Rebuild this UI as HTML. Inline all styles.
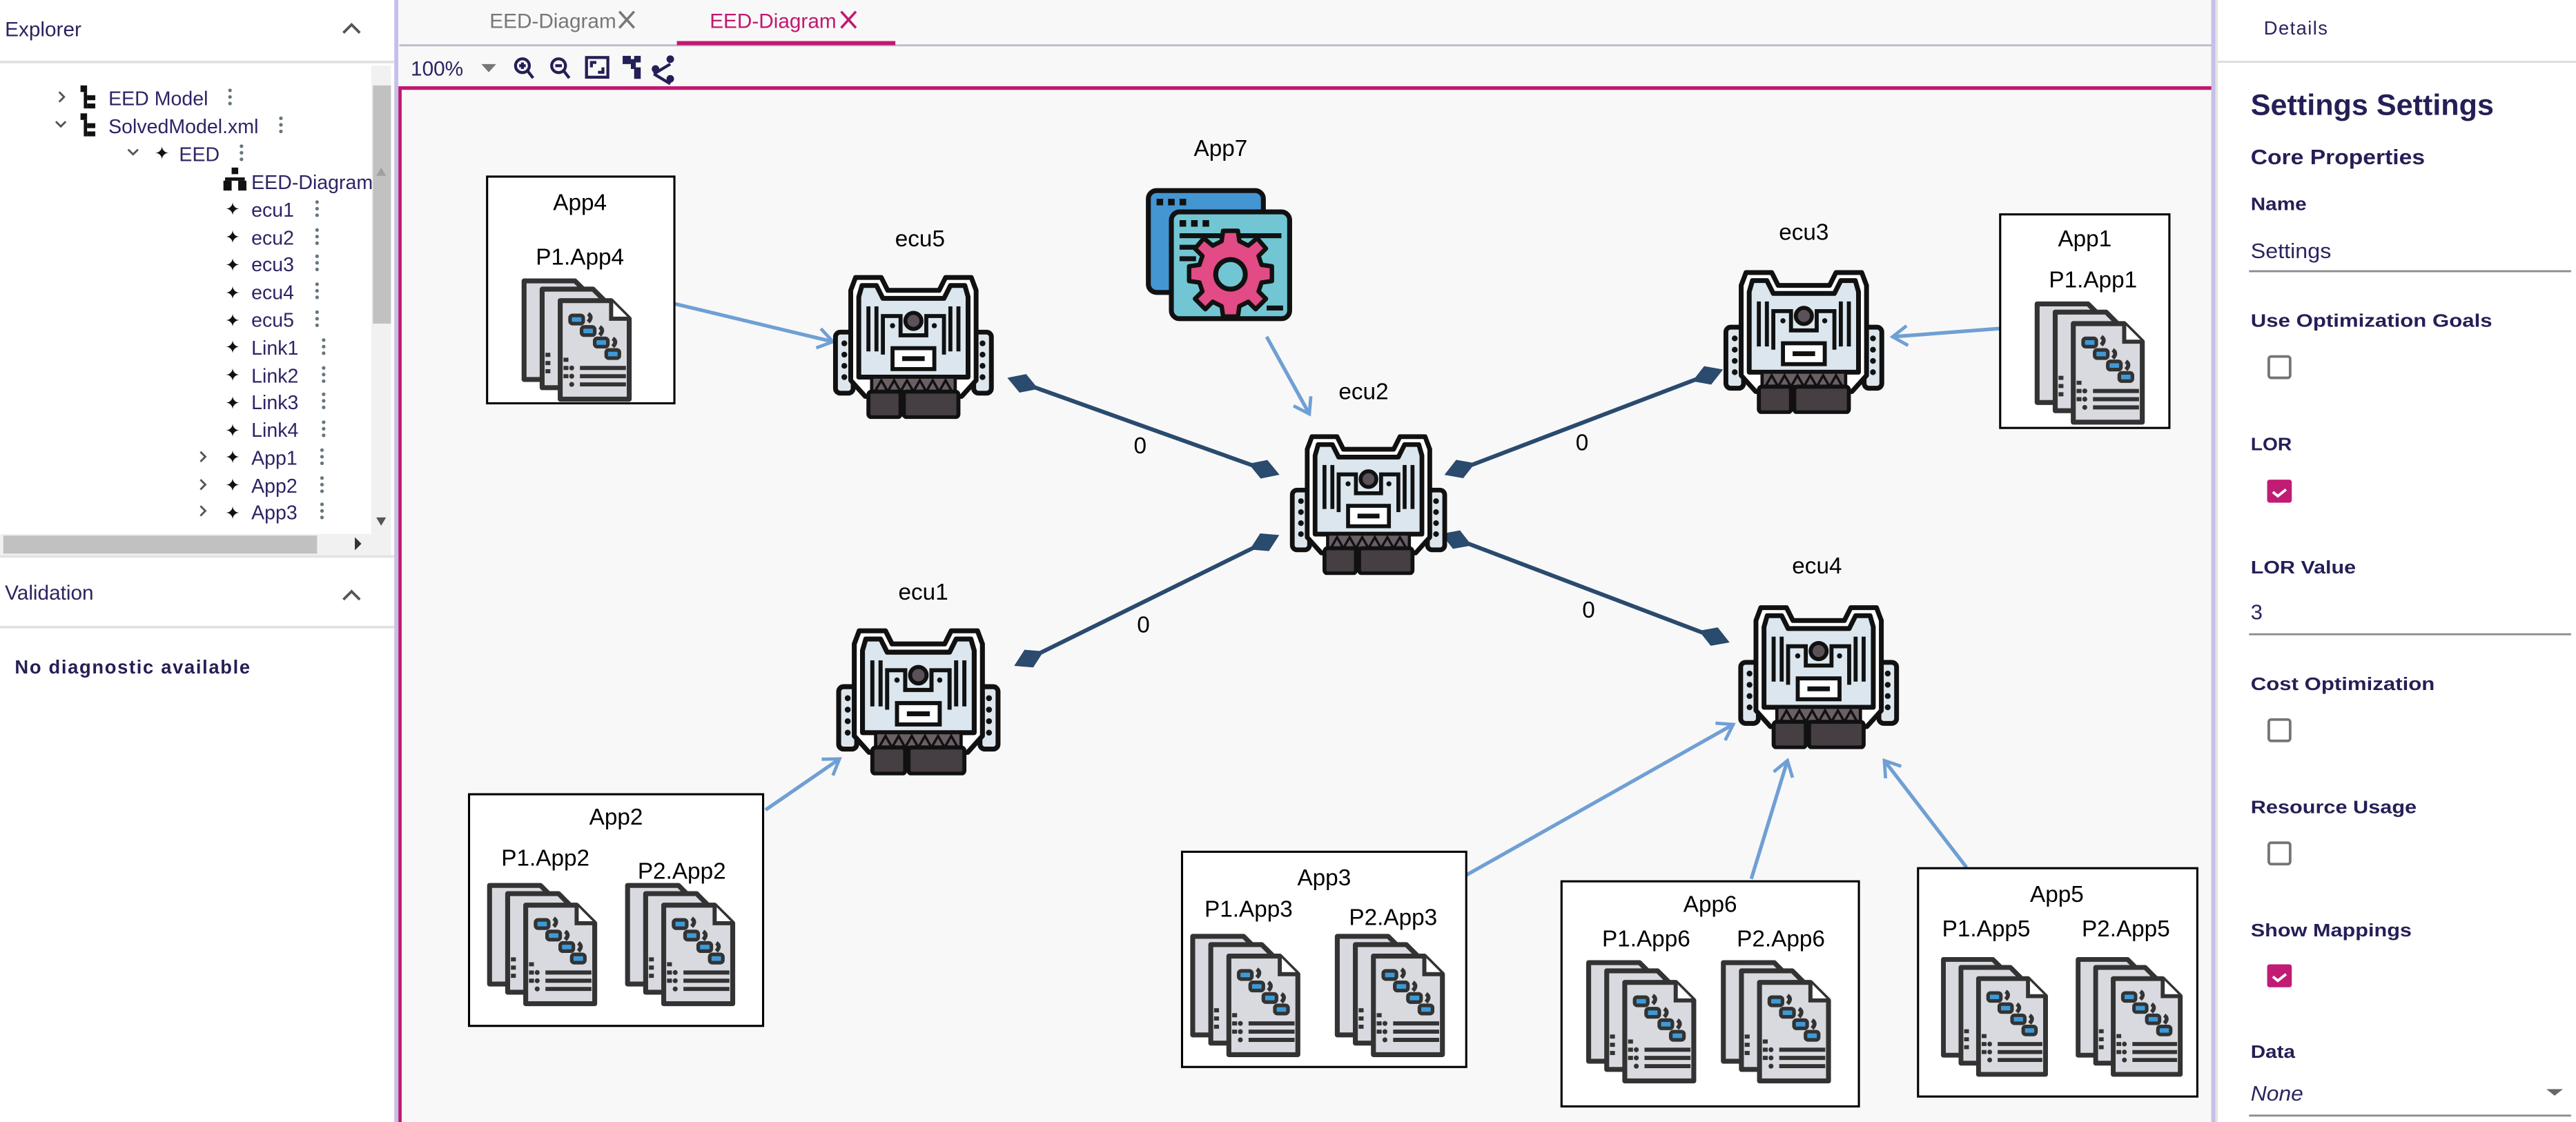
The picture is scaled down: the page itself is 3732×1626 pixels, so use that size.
<!DOCTYPE html>
<html><head><meta charset="utf-8"><style>
html,body{margin:0;padding:0;background:#fff;overflow:hidden}
svg{display:block}
</style></head><body>
<svg width="3732" height="1626" viewBox="0 0 1568 683" preserveAspectRatio="none" xmlns="http://www.w3.org/2000/svg" font-family="'Liberation Sans', sans-serif">
<defs>
<symbol id="ecu" viewBox="0 0 100 92">
  <rect x="1.5" y="38" width="11" height="38" rx="3" fill="#dde6ec" stroke="#111" stroke-width="3"/>
  <rect x="87.5" y="38" width="11" height="38" rx="3" fill="#dde6ec" stroke="#111" stroke-width="3"/>
  <g fill="#111"><circle cx="7" cy="45" r="1.8"/><circle cx="7" cy="52" r="1.8"/><circle cx="7" cy="59" r="1.8"/><circle cx="7" cy="66" r="1.8"/>
  <circle cx="93" cy="45" r="1.8"/><circle cx="93" cy="52" r="1.8"/><circle cx="93" cy="59" r="1.8"/><circle cx="93" cy="66" r="1.8"/></g>
  <path d="M11,12 L14,4 L30,4 L34,12 L66,12 L70,4 L86,4 L89,12 L89,68 L80,78 L20,78 L11,68 Z" fill="#fff" stroke="#111" stroke-width="3" stroke-linejoin="round"/>
  <path d="M16,16 L18,9 L27,9 L31,17 L69,17 L73,9 L82,9 L84,16 L84,66 L16,66 Z" fill="#dbe6ee" stroke="#111" stroke-width="3" stroke-linejoin="round"/>
  <path d="M22,22 V50 M27,22 V50 M78,22 V50 M73,22 V50" stroke="#111" stroke-width="2.5"/>
  <path d="M31,52 V28 H42 V40 H58 V28 H69 V52" fill="none" stroke="#111" stroke-width="2.5"/>
  <circle cx="50" cy="31" r="5" fill="#5a5258" stroke="#111" stroke-width="2.5"/>
  <circle cx="37" cy="34" r="1.6" fill="#111"/><circle cx="63" cy="34" r="1.6" fill="#111"/>
  <rect x="37" y="48" width="26" height="13" fill="#fff" stroke="#111" stroke-width="2.5"/>
  <rect x="43" y="53" width="14" height="3" fill="#111"/>
  <rect x="24" y="66" width="52" height="9" fill="#6a5f65" stroke="#111" stroke-width="2"/>
  <path d="M26,75 L30,68 L34,75 L38,68 L42,75 L46,68 L50,75 L54,68 L58,75 L62,68 L66,75 L70,68 L74,75" fill="none" stroke="#111" stroke-width="1.5"/>
  <rect x="22" y="75" width="20" height="16" rx="2" fill="#453e42" stroke="#111" stroke-width="2.5"/>
  <rect x="44" y="75" width="34" height="16" rx="2" fill="#453e42" stroke="#111" stroke-width="2.5"/>
</symbol>
<symbol id="page" viewBox="0 0 46 64">
  <path d="M2,2 H33 L44,13 V62 H2 Z" fill="#d9dae0" stroke="#333" stroke-width="3" stroke-linejoin="round"/>
</symbol>
<symbol id="docs" viewBox="0 0 70 78">
  <use href="#page" x="0" y="0" width="46" height="64"/>
  <use href="#page" x="11" y="5" width="46" height="64"/>
  <use href="#page" x="22" y="12" width="46" height="64"/>
  <path d="M55,14 V25 H66" fill="#fff" stroke="#333" stroke-width="2.5"/>
  <g fill="#3d9ad8" stroke="#333" stroke-width="2.2">
  <rect x="30" y="23" width="8" height="5" rx="1.5"/><rect x="37" y="30" width="8" height="5" rx="1.5"/>
  <rect x="45" y="37" width="8" height="5" rx="1.5"/><rect x="52" y="44" width="8" height="5" rx="1.5"/></g>
  <g stroke="#333" stroke-width="2.5" fill="none"><path d="M41,22 q3,2 0,5"/><path d="M48,30 q3,2 0,5"/><path d="M56,37 q3,2 0,5"/>
  <path d="M36,55 H64 M36,60 H64 M36,65 H64"/><path d="M26,50 h3 M26,55 h3 M26,60 h3 M15,47 h3 M15,52 h3 M15,57 h3"/></g>
  <g fill="#333"><circle cx="31" cy="55" r="1.5"/><circle cx="31" cy="60" r="1.5"/><circle cx="31" cy="65" r="1.5"/></g>
</symbol>
<symbol id="app7" viewBox="0 0 90 82">
  <rect x="2" y="2" width="70" height="62" rx="5" fill="#4396d2" stroke="#111" stroke-width="3"/>
  <rect x="16" y="15" width="72" height="65" rx="5" fill="#72c6d4" stroke="#111" stroke-width="3"/>
  <g fill="#111"><rect x="7" y="7" width="4" height="4"/><rect x="14" y="7" width="4" height="4"/><rect x="21" y="7" width="4" height="4"/>
  <rect x="21" y="20" width="4" height="4"/><rect x="28" y="20" width="4" height="4"/><rect x="35" y="20" width="4" height="4"/>
  <rect x="21" y="28" width="62" height="3"/><rect x="21" y="35" width="14" height="3"/><rect x="21" y="42" width="10" height="3"/><rect x="74" y="72" width="10" height="3"/></g>
  <g transform="translate(52,53)">
   <path d="M-5,-25 H5 L6,-18 L12,-15 L18,-20 L24,-13 L19,-8 L21,-2 L28,-1 V9 L21,10 L19,16 L24,21 L17,28 L12,23 L6,26 L5,33 H-5 L-6,26 L-12,23 L-17,28 L-24,21 L-19,16 L-21,10 L-28,9 V-1 L-21,-2 L-19,-8 L-24,-13 L-18,-20 L-12,-15 L-6,-18 Z" transform="translate(0,-4) scale(0.9)" fill="#e24b86" stroke="#111" stroke-width="3" stroke-linejoin="round"/>
   <circle cx="0" cy="0" r="9" fill="#72c6d4" stroke="#111" stroke-width="3"/>
  </g>
</symbol>
<marker id="ah" markerWidth="14" markerHeight="14" refX="11" refY="7" orient="auto" markerUnits="userSpaceOnUse">
  <path d="M2,1 L11,7 L2,13" fill="none" stroke="#6f9fd4" stroke-width="2"/>
</marker>
</defs>

<!-- Left panel -->
<rect x="0" y="0" width="240" height="683" fill="#fff"/>
<text x="3" y="22" font-size="12.5" fill="#2a2560">Explorer</text>
<path d="M209,20 l5,-5 l5,5" fill="none" stroke="#555" stroke-width="1.6"/>
<rect x="0" y="37" width="240" height="1.5" fill="#e0e0e0"/>
<rect x="226" y="40" width="12" height="285" fill="#f1f1f1"/>
<rect x="227" y="52" width="11" height="145" fill="#c1c1c1"/>
<path d="M229,108 l3,-5 l3,5z" fill="#a0a0a0" transform="translate(0,-1)"/>
<path d="M229,315 l3,5 l3,-5z" fill="#555"/>
<rect x="0" y="325" width="238" height="13" fill="#f1f1f1"/>
<rect x="2" y="326" width="191" height="11" fill="#c1c1c1"/>
<path d="M216,327 l4,4 l-4,4z" fill="#333"/>
<rect x="0" y="338" width="240" height="1.5" fill="#e3e3e3"/>

<g font-size="12" fill="#2c2565">
 <g stroke="#555" stroke-width="1.2" fill="none"><path d="M36,56 l3,3 l-3,3"/><path d="M34,74 l3,3 l3,-3"/><path d="M78,91 l3,3 l3,-3"/>
 <path d="M122,275 l3,3 l-3,3"/><path d="M122,292 l3,3 l-3,3"/><path d="M122,308 l3,3 l-3,3"/></g>
 <g fill="#111"><rect x="49" y="52" width="4" height="4"/><rect x="51" y="56" width="2" height="10"/><rect x="53" y="58" width="5" height="3"/><rect x="53" y="63" width="5" height="3"/>
 <rect x="49" y="69" width="4" height="4"/><rect x="51" y="73" width="2" height="10"/><rect x="53" y="75" width="5" height="3"/><rect x="53" y="80" width="5" height="3"/>
 <rect x="141" y="102" width="4" height="4"/><rect x="137" y="108" width="12" height="2"/><rect x="136" y="110" width="5" height="6"/><rect x="145" y="110" width="5" height="6"/></g>
 <text x="66" y="64">EED Model</text>
 <text x="66" y="81">SolvedModel.xml</text>
 <text x="109" y="98">EED</text>
 <text x="153" y="115">EED-Diagram</text>
 <g font-size="11" fill="#111"><text x="94" y="97">✦</text>
 <text x="137" y="131">✦</text><text x="137" y="148">✦</text><text x="137" y="165">✦</text><text x="137" y="182">✦</text><text x="137" y="199">✦</text>
 <text x="137" y="215">✦</text><text x="137" y="232">✦</text><text x="137" y="249">✦</text><text x="137" y="266">✦</text>
 <text x="137" y="282">✦</text><text x="137" y="299">✦</text><text x="137" y="316">✦</text></g>
 <text x="153" y="132">ecu1</text><text x="153" y="149">ecu2</text><text x="153" y="165">ecu3</text><text x="153" y="182">ecu4</text><text x="153" y="199">ecu5</text>
 <text x="153" y="216">Link1</text><text x="153" y="233">Link2</text><text x="153" y="249">Link3</text><text x="153" y="266">Link4</text>
 <text x="153" y="283">App1</text><text x="153" y="300">App2</text><text x="153" y="316">App3</text>
 <g fill="#66767e">
  <circle cx="140" cy="55" r="1.1"/><circle cx="140" cy="59" r="1.1"/><circle cx="140" cy="63" r="1.1"/>
  <circle cx="171" cy="72" r="1.1"/><circle cx="171" cy="76" r="1.1"/><circle cx="171" cy="80" r="1.1"/>
  <circle cx="147" cy="89" r="1.1"/><circle cx="147" cy="93" r="1.1"/><circle cx="147" cy="97" r="1.1"/>
  <g id="k1"><circle cx="193" cy="123" r="1.1"/><circle cx="193" cy="127" r="1.1"/><circle cx="193" cy="131" r="1.1"/></g>
  <use href="#k1" y="17"/><use href="#k1" y="33"/><use href="#k1" y="50"/><use href="#k1" y="67"/>
  <use href="#k1" x="4" y="84"/><use href="#k1" x="4" y="101"/><use href="#k1" x="4" y="117"/><use href="#k1" x="4" y="134"/>
  <use href="#k1" x="3" y="151"/><use href="#k1" x="3" y="168"/><use href="#k1" x="3" y="184"/>
 </g>
</g>
<text x="3" y="365" font-size="12.5" fill="#2a2560">Validation</text>
<path d="M209,365 l5,-5 l5,5" fill="none" stroke="#555" stroke-width="1.6"/>
<rect x="0" y="381" width="240" height="1.5" fill="#e0e0e0"/>
<text x="9" y="410" font-size="11.5" font-weight="bold" fill="#241f56" letter-spacing="0.7">No diagnostic available</text>
<rect x="240" y="0" width="2.5" height="683" fill="#c4c0ea"/>

<!-- Middle -->
<rect x="243" y="0" width="1104" height="683" fill="#f8f8f8"/>
<rect x="243" y="27" width="1104" height="1.2" fill="#b9bec6"/>
<text x="298" y="17" font-size="12.5" fill="#777">EED-Diagram</text>
<path d="M377,7 l9,10 M386,7 l-9,10" stroke="#777" stroke-width="1.5"/>
<text x="432" y="17" font-size="12.5" fill="#c2186f">EED-Diagram</text>
<path d="M512,7 l9,10 M521,7 l-9,10" stroke="#c2186f" stroke-width="1.5"/>
<rect x="412" y="25" width="133" height="2.5" fill="#c2186f"/>
<text x="250" y="46" font-size="12.5" fill="#2a2560">100%</text>
<path d="M293,39 h9 l-4.5,5z" fill="#777"/>
<g stroke="#241f56" fill="none" stroke-width="1.8">
 <circle cx="318" cy="40" r="4.2"/><path d="M321,43 l3.5,4.5 M316,40 h4 M318,38 v4"/>
 <circle cx="340" cy="40" r="4.2"/><path d="M343,43 l3.5,4.5 M338,40 h4"/>
 <rect x="357" y="35" width="13" height="12"/><path d="M360,41 v-3 h3 M367,41 v3 h-3"/>
 <path d="M398,45 l10,-6 M398,45 l10,6"/>
</g>
<g fill="#241f56"><rect x="379" y="34" width="5" height="5"/><rect x="384" y="36" width="3" height="6"/><rect x="386" y="41" width="4" height="7"/><rect x="386" y="34" width="4" height="4"/>
<circle cx="408" cy="36" r="2.3"/><circle cx="408" cy="48" r="2.3"/><circle cx="399" cy="42" r="2.3"/></g>
<rect x="243" y="52.5" width="1104" height="2.2" fill="#c2186f"/>
<rect x="242.5" y="52.5" width="2" height="630.5" fill="#c2186f"/>

<!-- Diagram edges -->
<g stroke="#6f9fd4" stroke-width="2.2" fill="none" marker-end="url(#ah)">
 <path d="M411,185 L507,208"/>
 <path d="M771,205 L797,252"/>
 <path d="M1217,200 L1152,205"/>
 <path d="M466,493 L511,462"/>
 <path d="M892,533 L1055,441"/>
 <path d="M1066,535 L1088,463"/>
 <path d="M1197,528 L1147,463"/>
</g>
<g stroke="#2a4a6e" stroke-width="2.5">
 <path d="M622,233 L770,286"/><path d="M1040,228 L888,286"/><path d="M626,401 L770,330"/><path d="M1044,388 L886,328"/>
</g>
<g fill="#2a4a6e">
 <polygon points="-3,0 7,-6 17,0 7,6" transform="translate(616,231) rotate(19.7)"/>
 <polygon points="-3,0 7,-6 17,0 7,6" transform="translate(776,288) rotate(199.7)"/>
 <polygon points="-3,0 7,-6 17,0 7,6" transform="translate(1046,226) rotate(159.1)"/>
 <polygon points="-3,0 7,-6 17,0 7,6" transform="translate(882,288) rotate(339.1)"/>
 <polygon points="-3,0 7,-6 17,0 7,6" transform="translate(620,404) rotate(-26.2)"/>
 <polygon points="-3,0 7,-6 17,0 7,6" transform="translate(776,327) rotate(153.8)"/>
 <polygon points="-3,0 7,-6 17,0 7,6" transform="translate(1050,390) rotate(-159.2)"/>
 <polygon points="-3,0 7,-6 17,0 7,6" transform="translate(880,326) rotate(20.8)"/>
</g>
<g font-size="14" fill="#000" text-anchor="middle">
 <text x="694" y="276">0</text><text x="963" y="274">0</text><text x="696" y="385">0</text><text x="967" y="376">0</text>
</g>

<!-- ECUs -->
<use href="#ecu" x="507" y="165" width="98" height="90"/>
<use href="#ecu" x="782" y="262" width="102" height="88"/>
<use href="#ecu" x="1047" y="162" width="102" height="90"/>
<use href="#ecu" x="509" y="380" width="100" height="92"/>
<use href="#ecu" x="1055" y="366" width="104" height="90"/>
<use href="#app7" x="697" y="114" width="90" height="82"/>

<g font-size="14" fill="#000" text-anchor="middle">
 <text x="560" y="150">ecu5</text><text x="830" y="243">ecu2</text><text x="1098" y="146">ecu3</text>
 <text x="562" y="365">ecu1</text><text x="1106" y="349">ecu4</text><text x="743" y="95">App7</text>
</g>

<!-- App boxes -->
<g fill="#fff" stroke="#000" stroke-width="1.3">
 <rect x="296.5" y="107.5" width="114" height="138"/>
 <rect x="1217.5" y="130.5" width="103" height="130"/>
 <rect x="285.5" y="483.5" width="179" height="141"/>
 <rect x="719.5" y="518.5" width="173" height="131"/>
 <rect x="950.5" y="536.5" width="181" height="137"/>
 <rect x="1167.5" y="528.5" width="170" height="139"/>
</g>
<g font-size="14" fill="#000" text-anchor="middle">
 <text x="353" y="128">App4</text><text x="353" y="161">P1.App4</text>
 <text x="1269" y="150">App1</text><text x="1274" y="175">P1.App1</text>
 <text x="375" y="502">App2</text><text x="332" y="527">P1.App2</text><text x="415" y="535">P2.App2</text>
 <text x="806" y="539">App3</text><text x="760" y="558">P1.App3</text><text x="848" y="563">P2.App3</text>
 <text x="1041" y="555">App6</text><text x="1002" y="576">P1.App6</text><text x="1084" y="576">P2.App6</text>
 <text x="1252" y="549">App5</text><text x="1209" y="570">P1.App5</text><text x="1294" y="570">P2.App5</text>
</g>
<use href="#docs" x="317" y="169" width="70" height="78"/>
<use href="#docs" x="1238" y="183" width="70" height="78"/>
<use href="#docs" x="296" y="537" width="70" height="78"/>
<use href="#docs" x="380" y="537" width="70" height="78"/>
<use href="#docs" x="724" y="568" width="70" height="78"/>
<use href="#docs" x="812" y="568" width="70" height="78"/>
<use href="#docs" x="965" y="584" width="70" height="78"/>
<use href="#docs" x="1047" y="584" width="70" height="78"/>
<use href="#docs" x="1181" y="581" width="68" height="78"/>
<use href="#docs" x="1263" y="581" width="68" height="78"/>

<!-- Right panel -->
<rect x="1347" y="0" width="221" height="683" fill="#fff"/>
<rect x="1346" y="0" width="2.5" height="683" fill="#c4c0ea"/>
<rect x="1348.5" y="0" width="1.5" height="683" fill="#e4e4e4"/>
<text x="1378" y="21" font-size="11.5" fill="#2a2560" letter-spacing="0.6">Details</text>
<rect x="1350" y="37" width="218" height="1.2" fill="#ddd"/>
<g fill="#241f56" font-weight="bold">
 <text x="1370" y="70" font-size="18" textLength="148" lengthAdjust="spacingAndGlyphs">Settings Settings</text>
 <text x="1370" y="100" font-size="13" textLength="106" lengthAdjust="spacingAndGlyphs">Core Properties</text>
 <text x="1370" y="128" font-size="11" textLength="34" lengthAdjust="spacingAndGlyphs">Name</text>
 <text x="1370" y="199" font-size="11" textLength="147" lengthAdjust="spacingAndGlyphs">Use Optimization Goals</text>
 <text x="1370" y="274" font-size="11" textLength="25" lengthAdjust="spacingAndGlyphs">LOR</text>
 <text x="1370" y="349" font-size="11" textLength="64" lengthAdjust="spacingAndGlyphs">LOR Value</text>
 <text x="1370" y="420" font-size="11" textLength="112" lengthAdjust="spacingAndGlyphs">Cost Optimization</text>
 <text x="1370" y="495" font-size="11" textLength="101" lengthAdjust="spacingAndGlyphs">Resource Usage</text>
 <text x="1370" y="570" font-size="11" textLength="98" lengthAdjust="spacingAndGlyphs">Show Mappings</text>
 <text x="1370" y="644" font-size="11" textLength="27" lengthAdjust="spacingAndGlyphs">Data</text>
</g>
<g fill="#2a2560" font-size="13">
 <text x="1370" y="157" textLength="49" lengthAdjust="spacingAndGlyphs">Settings</text>
 <text x="1370" y="377">3</text>
 <text x="1370" y="670" font-style="italic" textLength="32" lengthAdjust="spacingAndGlyphs">None</text>
</g>
<g fill="#8c8c8c"><rect x="1369" y="164.5" width="196" height="1.2"/><rect x="1369" y="385.5" width="196" height="1.2"/><rect x="1369" y="678.5" width="196" height="1.2"/></g>
<path d="M1550,663 h10 l-5,4z" fill="#666"/>
<g fill="none" stroke="#757575" stroke-width="1.6">
 <rect x="1381" y="217" width="13" height="13" rx="1.5"/>
 <rect x="1381" y="438" width="13" height="13" rx="1.5"/>
 <rect x="1381" y="513" width="13" height="13" rx="1.5"/>
</g>
<g>
 <rect x="1380" y="292" width="15" height="14" rx="1.5" fill="#c01c74"/>
 <path d="M1383.5,299.5 l3,2.5 l5,-4" fill="none" stroke="#fff" stroke-width="1.6"/>
 <rect x="1380" y="587" width="15" height="14" rx="1.5" fill="#c01c74"/>
 <path d="M1383.5,594.5 l3,2.5 l5,-4" fill="none" stroke="#fff" stroke-width="1.6"/>
</g>
</svg>
</body></html>
